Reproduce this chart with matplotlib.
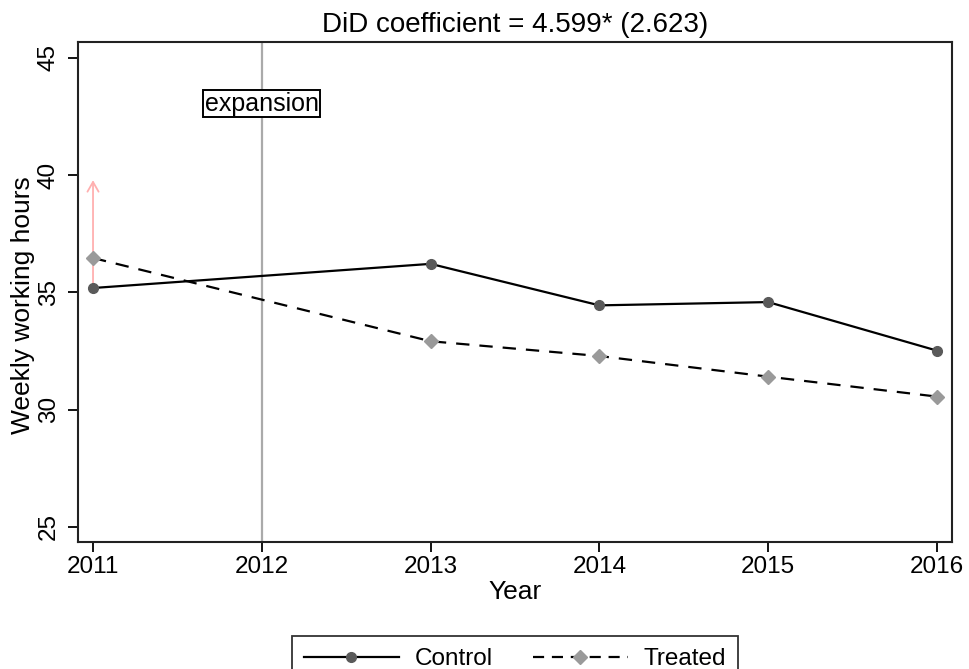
import matplotlib
matplotlib.use("Agg")
import matplotlib.pyplot as plt
from matplotlib.lines import Line2D

plt.rcParams['font.family'] = ['Liberation Sans', 'DejaVu Sans']

years = [2011, 2013, 2014, 2015, 2016]
control = [35.19, 36.22, 34.45, 34.59, 32.52]
treated = [36.47, 32.92, 32.29, 31.41, 30.56]
did_coef = 4.599
did_se = 2.623
policy_year = 2012
xticks = [2011, 2012, 2013, 2014, 2015, 2016]
yticks = [25, 30, 35, 40, 45]

W, H = 969, 669
fig = plt.figure(figsize=(W / 100, H / 100), dpi=100)
L, R, T, B = 78, 952, 42, 542
ax = fig.add_axes([L / W, 1 - B / H, (R - L) / W, (B - T) / H])

ax.axvline(policy_year, color='#aaaaaa', lw=1.6, zorder=1)
ax.text(policy_year, 43.05, 'expansion', ha='center', va='center', fontsize=18,
        bbox=dict(boxstyle='square,pad=0.06', fc='white', ec='black', lw=1.4), zorder=3)

ax.plot(years, control, color='black', lw=1.6, marker='o', ms=7,
        mfc='#5a5a5a', mec='#5a5a5a', zorder=4, label='Control')
ax.plot(years, treated, color='black', lw=1.6, linestyle=(0, (6, 4.5)), marker='D', ms=7.5,
        mfc='#9a9a9a', mec='#9a9a9a', zorder=4, label='Treated')

ax.annotate('', xy=(years[0], control[0] + did_coef), xytext=(years[0], control[0]),
            arrowprops=dict(arrowstyle='->,head_length=0.7,head_width=0.4',
                            color='#ffb0b0', lw=1.3, shrinkA=0, shrinkB=0), zorder=3)

ax.set_xlim(2010.911, 2016.089)
ax.set_ylim(24.36, 45.68)
ax.set_xticks(xticks)
ax.set_yticks(yticks)
ax.tick_params(axis='both', direction='out', length=7.2, width=1.3, labelsize=17.5)
ax.tick_params(axis='x', pad=3)
ax.tick_params(axis='y', pad=6)
for lab in ax.get_yticklabels():
    lab.set_rotation(90)
    lab.set_va('center')
for s in ax.spines.values():
    s.set_linewidth(1.5)
    s.set_color('#222222')

ax.set_xlabel('Year', fontsize=19, labelpad=1)
ax.set_ylabel('Weekly working hours', fontsize=19)
ax.yaxis.set_label_coords(-0.049, 0.474)
ax.set_title(f'DiD coefficient = {did_coef:.3f}* ({did_se:.3f})', fontsize=20, pad=7)

handles = [
    Line2D([], [], color='black', lw=1.6, marker='o', ms=7, mfc='#5a5a5a', mec='#5a5a5a'),
    Line2D([], [], color='black', lw=1.6, linestyle=(0, (5, 3.5)), marker='D', ms=7.5,
           mfc='#9a9a9a', mec='#9a9a9a'),
]
leg = fig.legend(handles, ['Control', 'Treated'], loc='upper center',
                 bbox_to_anchor=((L + R) / 2 / W, 1 - 624 / H), ncol=2, fontsize=17.5,
                 frameon=True, fancybox=False, edgecolor='black', handlelength=3.9,
                 columnspacing=1.65, handletextpad=0.66, borderpad=0.5)
leg.get_frame().set_linewidth(1.3)

fig.savefig('out.png', dpi=100)
